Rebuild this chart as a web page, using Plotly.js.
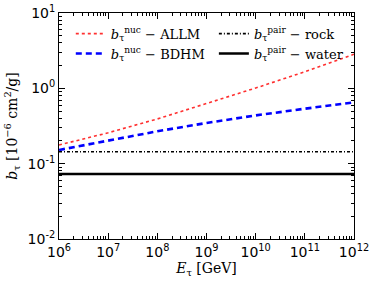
<!DOCTYPE html>
<html>
<head>
<meta charset="utf-8">
<script src="https://cdn.plot.ly/plotly-3.0.1.min.js"></script>
<style>body{margin:0;padding:0;background:#fff}#chart{width:374px;height:283px}</style>
</head>
<body>
<div id="chart"></div>
<script>
const energies = [1e6, 1e7, 1e8, 1e9, 1e10, 1e11, 1e12];
const nucALLM = [0.177, 0.257, 0.392, 0.624, 1.01, 1.66, 2.84];
const nucBDHM = [0.152, 0.204, 0.269, 0.347, 0.437, 0.537, 0.650];
const pairRock = [0.144, 0.144, 0.144, 0.144, 0.144, 0.144, 0.144];
const pairWater = [0.073, 0.073, 0.073, 0.073, 0.073, 0.073, 0.073];
const xTickVals = [1e6, 1e7, 1e8, 1e9, 1e10, 1e11, 1e12];
const xTickText = ['10<sup>6</sup>', '10<sup>7</sup>', '10<sup>8</sup>', '10<sup>9</sup>', '10<sup>10</sup>', '10<sup>11</sup>', '10<sup>12</sup>'];
const yTickVals = [0.01, 0.1, 1, 10];
const yTickText = ['10<sup>-2</sup>', '10<sup>-1</sup>', '10<sup>0</sup>', '10<sup>1</sup>'];
const labels = [
  "<i>b</i><sub>τ</sub><sup>nuc</sup> − ALLM",
  "<i>b</i><sub>τ</sub><sup>nuc</sup> − BDHM",
  "<i>b</i><sub>τ</sub><sup>pair</sup> − rock",
  "<i>b</i><sub>τ</sub><sup>pair</sup> − water"
];

const traces = [
  {x: energies, y: nucALLM, name: labels[0], legend: 'legend', mode: 'lines', line: {color: '#ff3030', width: 1.6, dash: 'dot'}},
  {x: energies, y: nucBDHM, name: labels[1], legend: 'legend', mode: 'lines', line: {color: '#0000ff', width: 2.6, dash: '6px,4px'}},
  {x: energies, y: pairRock, name: labels[2], legend: 'legend2', mode: 'lines', line: {color: '#000', width: 1.6, dash: '3px,2px,1px,2px'}},
  {x: energies, y: pairWater, name: labels[3], legend: 'legend2', mode: 'lines', line: {color: '#000', width: 2.6}}
];

const axisCommon = {
  type: 'log', showgrid: false, zeroline: false,
  showline: true, linecolor: '#000', linewidth: 1, mirror: 'allticks',
  ticks: 'inside', ticklen: 6, tickwidth: 1, tickcolor: '#000',
  minor: {ticks: 'inside', ticklen: 3, tickwidth: 1, tickcolor: '#000', dtick: 'D1', showgrid: false},
  tickfont: {family: 'DejaVu Sans', size: 14, color: '#000'},
  tickmode: 'array'
};

const legendCommon = {
  orientation: 'v', y: 0.975, xanchor: 'left', yanchor: 'top',
  bgcolor: 'rgba(0,0,0,0)',
  font: {family: 'DejaVu Serif', size: 13, color: '#000'},
  tracegroupgap: 0
};

const layout = {
  width: 374, height: 283,
  margin: {l: 59, r: 20, t: 13, b: 44},
  paper_bgcolor: '#fff', plot_bgcolor: '#fff',
  showlegend: true,
  legend: Object.assign({}, legendCommon, {x: 0.04}),
  legend2: Object.assign({}, legendCommon, {x: 0.525}),
  xaxis: Object.assign({}, axisCommon, {
    range: [6, 12], tickvals: xTickVals, ticktext: xTickText,
    title: {text: '<i>E</i><sub>τ</sub> [GeV]', font: {family: 'DejaVu Serif', size: 14, color: '#000'}, standoff: 4}
  }),
  yaxis: Object.assign({}, axisCommon, {
    range: [-2, 1], tickvals: yTickVals, ticktext: yTickText,
    title: {text: '<i>b</i><sub>τ</sub> [10<sup>−6</sup> cm<sup>2</sup>/g]', font: {family: 'DejaVu Serif', size: 14, color: '#000'}, standoff: 6}
  })
};

Plotly.newPlot('chart', traces, layout, {staticPlot: true, displayModeBar: false});
</script>
</body>
</html>
